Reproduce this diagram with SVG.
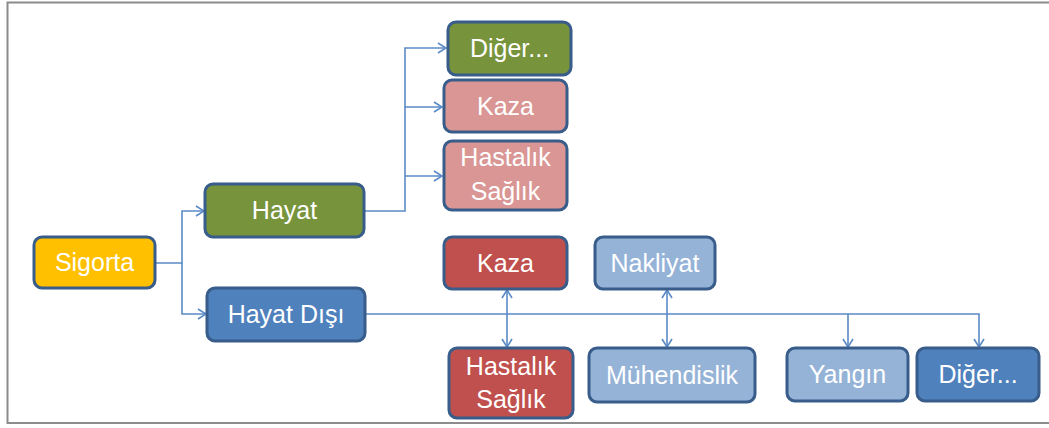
<svg xmlns="http://www.w3.org/2000/svg" width="1049" height="428" viewBox="0 0 1049 428">
  <style>
    .box { stroke: #385d8a; stroke-width: 3; }
    .yellow { fill: #ffc000; }
    .green { fill: #77933c; }
    .pink { fill: #d99694; }
    .red { fill: #c0504d; }
    .lblue { fill: #95b3d7; }
    .blue { fill: #4f81bd; }
    .lbl { font-family: "Liberation Sans", Arial, sans-serif; font-size: 25px; fill: #ffffff; text-anchor: middle; }
    .wire { fill: none; stroke: #5a8ac6; stroke-width: 1.6; }
  </style>
  <defs>
    <marker id="chev" viewBox="0 0 10 12" refX="9" refY="6" markerWidth="10" markerHeight="12" markerUnits="userSpaceOnUse" orient="auto-start-reverse">
      <path d="M1,1 L9,6 L1,11" fill="none" stroke="#5a8ac6" stroke-width="1.6"/>
    </marker>
  </defs>

  <!-- frame -->
  <path d="M7.5,424 V2.5 H1049 M7.5,423 H1049" fill="none" stroke="#8c8c8c" stroke-width="2"/>

  <!-- connectors -->
  <g id="connectors">
    <path class="wire" d="M155,263 H182 V211 H204" marker-end="url(#chev)"/>
    <path class="wire" d="M182,263 V314 H206" marker-end="url(#chev)"/>
    <path class="wire" d="M364,211 H405 V48 H446" marker-end="url(#chev)"/>
    <path class="wire" d="M405,107 H442" marker-end="url(#chev)"/>
    <path class="wire" d="M405,176 H442" marker-end="url(#chev)"/>
    <path class="wire" d="M365,314 H979 V347" marker-end="url(#chev)"/>
    <path class="wire" d="M848,314 V347" marker-end="url(#chev)"/>
    <path class="wire" d="M507,290 V347" marker-start="url(#chev)" marker-end="url(#chev)"/>
    <path class="wire" d="M667,290 V347" marker-start="url(#chev)" marker-end="url(#chev)"/>
  </g>

  <g id="sigorta">
    <rect class="box yellow" x="34" y="237" width="121" height="51" rx="8"/>
    <text class="lbl" x="94.5" y="271">Sigorta</text>
  </g>
  <g id="hayat">
    <rect class="box green" x="205" y="184" width="159" height="53" rx="8"/>
    <text class="lbl" x="284.5" y="219">Hayat</text>
  </g>
  <g id="hayat-disi">
    <rect class="box blue" x="207" y="288" width="158" height="53" rx="8"/>
    <text class="lbl" x="286" y="323">Hayat Dışı</text>
  </g>
  <g id="hayat-diger">
    <rect class="box green" x="448" y="22" width="123" height="53" rx="8"/>
    <text class="lbl" x="509.5" y="57">Diğer...</text>
  </g>
  <g id="hayat-kaza">
    <rect class="box pink" x="444" y="80" width="123" height="52" rx="8"/>
    <text class="lbl" x="505.5" y="115">Kaza</text>
  </g>
  <g id="hayat-hastalik">
    <rect class="box pink" x="444" y="141" width="123" height="69" rx="8"/>
    <text class="lbl" x="505.5" y="166">Hastalık</text>
    <text class="lbl" x="505.5" y="200">Sağlık</text>
  </g>
  <g id="kaza">
    <rect class="box red" x="444" y="237" width="123" height="52" rx="8"/>
    <text class="lbl" x="505.5" y="272">Kaza</text>
  </g>
  <g id="nakliyat">
    <rect class="box lblue" x="595" y="237" width="120" height="52" rx="8"/>
    <text class="lbl" x="655" y="272">Nakliyat</text>
  </g>
  <g id="hastalik-saglik">
    <rect class="box red" x="449" y="348" width="124" height="70" rx="8"/>
    <text class="lbl" x="511" y="375">Hastalık</text>
    <text class="lbl" x="511" y="408">Sağlık</text>
  </g>
  <g id="muhendislik">
    <rect class="box lblue" x="589" y="348" width="166" height="54" rx="8"/>
    <text class="lbl" x="672" y="384">Mühendislik</text>
  </g>
  <g id="yangin">
    <rect class="box lblue" x="787" y="348" width="121" height="53" rx="8"/>
    <text class="lbl" x="847.5" y="383">Yangın</text>
  </g>
  <g id="diger">
    <rect class="box blue" x="917" y="348" width="122" height="53" rx="8"/>
    <text class="lbl" x="978" y="383">Diğer...</text>
  </g>
</svg>
